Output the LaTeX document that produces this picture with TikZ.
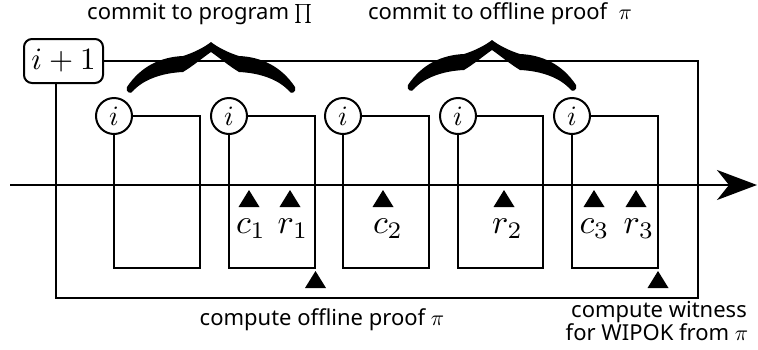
\documentclass[tikz,border=0pt]{standalone}
\usepackage{graphicx}
\usepackage{fontspec}
\setmainfont{Noto Sans}
\usetikzlibrary{arrows.meta}
\newcommand\scmath[2]{{\fontsize{10}{12}\selectfont\scalebox{#1}{$#2$}}}
\tikzset{
  ln/.style={line width=2.3pt},
  circ/.style={circle, draw, line width=2pt, minimum size=36pt, inner sep=0pt},
  incbox/.style={draw, rounded corners=8pt, line width=2pt, minimum width=79pt, minimum height=44pt, inner sep=0pt},
  mlab/.style={anchor=base, inner sep=0pt},
  tlab/.style={anchor=base, inner sep=0pt, font=\fontsize{22}{24}\selectfont},
  uptri/.pic={\fill (-10.5,17) -- (0,0) -- (10.5,17) -- cycle;},
  bracepic/.pic={\fill (-84,45) .. controls (-70,24) and (-50,15) .. (-28,14) .. controls (-18,11) and (-6,5) .. (0,0) .. controls (6,5) and (18,11) .. (28,14) .. controls (50,15) and (70,24) .. (84,45) .. controls (86,50) and (80,53) .. (78,49) .. controls (68,38) and (50,31) .. (28,30) .. controls (18,24) and (6,14) .. (0,10) .. controls (-6,14) and (-18,24) .. (-28,30) .. controls (-50,31) and (-68,38) .. (-78,49) .. controls (-80,53) and (-86,50) .. (-84,45) -- cycle;}
}
\begin{document}
\begin{tikzpicture}[x=1pt,y=-1pt]
\useasboundingbox (0,0) rectangle (758,349);
% axis
\coordinate (a0) at (10,185);
\coordinate (a1) at (757,185);
\draw[ln, -{Stealth[length=40pt, width=30pt, inset=12pt]}] (a0) -- (a1);
% outer loop
\node[incbox] (ip) at (63.5,61) {\scmath{3.1}{i+1}};
\coordinate (ob) at (698,298);
\coordinate (ipb) at (56,83);
\draw[ln] (ip.east) -| (ob) -| (ipb);
% inner loops
\foreach \n/\l/\r in {1/114/200, 2/229/315, 3/343/429, 4/458/543, 5/572/658} {
  \node[circ, fill=white] (c\n) at (\l,116) {\scmath{2.8}{i}};
  \coordinate (b\n) at (\r,268);
  \draw[ln] (c\n.east) -| (b\n) -| (c\n.south);
}
% triangles
\pic at (249,190) {uptri};
\pic at (290,190) {uptri};
\pic at (383,190) {uptri};
\pic at (504,190) {uptri};
\pic at (594,190) {uptri};
\pic at (636,190) {uptri};
\pic at (315.5,271) {uptri};
\pic at (658,271) {uptri};
% math labels
\node[mlab] (lc1) at (251,233) {\scmath{3.4}{c_1}};
\node[mlab] (lr1) at (293,233) {\scmath{3.4}{r_1}};
\node[mlab] (lc2) at (388,233) {\scmath{3.4}{c_2}};
\node[mlab] (lr2) at (507.5,233) {\scmath{3.4}{r_2}};
\node[mlab] (lc3) at (594.5,233) {\scmath{3.4}{c_3}};
\node[mlab] (lr3) at (639,233) {\scmath{3.4}{r_3}};
% braces
\begin{scope}[shift={(211,42)}]
  \pic {bracepic};
\end{scope}
\begin{scope}[shift={(492,40)}, xscale=1.18]
  \pic {bracepic};
\end{scope}
% text labels
\node[tlab] (t1) at (200,19) {commit to program \scmath{1.9}{\prod}};
\node[tlab] (t2) at (500,19) {commit to offline proof\ \ \scmath{2.2}{\pi}};
\node[tlab] (t3) at (322,325) {compute offline proof \scmath{2.2}{\pi}};
\node[tlab] (t4) at (659,317) {compute witness};
\node[tlab] (t5) at (657,340) {for WIPOK from \scmath{2.2}{\pi}};
\end{tikzpicture}
\end{document}
